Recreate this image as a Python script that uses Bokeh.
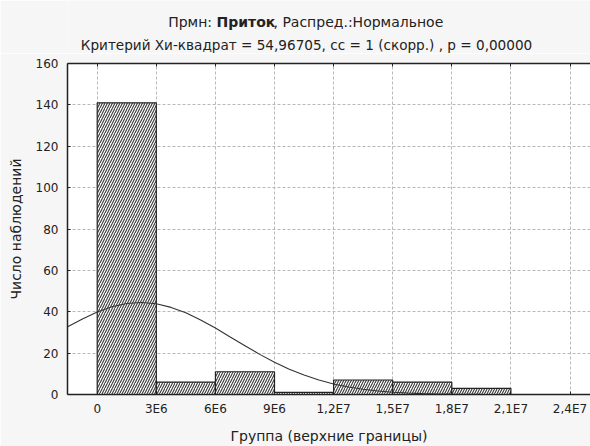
from bokeh.plotting import figure
from bokeh.models import Range1d, FixedTicker, LinearAxis
from bokeh.layouts import column
from bokeh.core.properties import value
from bokeh.embed import file_html
from bokeh.resources import INLINE

# ---- data ----
bin_left = [0, 3e6, 6e6, 9e6, 12e6, 15e6, 18e6]
bin_right = [3e6, 6e6, 9e6, 12e6, 15e6, 18e6, 21e6]
counts = [141, 6, 11, 1, 7, 6, 3]

# fitted normal curve, read at points along x
curve_x = [-1.5e6, -0.75e6, 0, 0.75e6, 1.5e6, 2.25e6, 3e6, 3.75e6, 4.5e6, 5.25e6,
           6e6, 6.75e6, 7.5e6, 8.25e6, 9e6, 9.75e6, 10.5e6, 11.25e6, 12e6, 12.75e6,
           13.5e6, 14.25e6, 15e6, 15.75e6, 16.5e6, 17.25e6, 18e6, 18.75e6, 19.5e6,
           20.25e6, 21e6, 22.5e6, 24e6, 25.5e6]
curve_y = [32.7, 36.5, 39.9, 42.4, 44.0, 44.5, 43.9, 42.1, 39.5, 36.0,
           32.1, 27.8, 23.6, 19.4, 15.6, 12.2, 9.4, 7.0, 5.1, 3.6,
           2.5, 1.7, 1.1, 0.7, 0.43, 0.26, 0.16, 0.09, 0.05,
           0.03, 0.015, 0.004, 0.001, 0.0]

x_ticks = [0, 3000000, 6000000, 9000000, 12000000, 15000000, 18000000, 21000000, 24000000]
x_tick_labels = ["0", "3E6", "6E6", "9E6", "1,2E7", "1,5E7", "1,8E7", "2,1E7", "2,4E7"]
y_ticks = [0, 20, 40, 60, 80, 100, 120, 140, 160]

title_part1 = "Прмн: "
title_part2 = "Приток"
title_part3 = ", Распред.:Нормальное"
title_line2 = "Критерий Хи-квадрат = 54,96705, сс = 1 (скорр.) , р = 0,00000"
x_label = "Группа (верхние границы)"
y_label = "Число наблюдений"

FONT = "DejaVu Sans"
BG = "#f6f6f6"
W = 590
TITLE_H = 53
LEFT = 67

# ---- title strip: its frame is aligned with the chart frame (x 67..590) ----
t = figure(width=W, height=TITLE_H, x_range=Range1d(LEFT, W), y_range=Range1d(TITLE_H, 0),
           x_axis_location=None, y_axis_location=None,
           output_backend="svg", toolbar_location=None,
           min_border=0, min_border_left=LEFT, min_border_right=0,
           min_border_top=0, min_border_bottom=0)
t.grid.visible = False
t.outline_line_color = None
t.background_fill_color = BG
t.border_fill_color = BG

common = dict(text_font=value(FONT), text_color="#222222", text_baseline="middle")
t.text(x=[216], y=[21], text=[title_part1], text_align="right",
       text_font_size=value("14px"), **common)
t.text(x=[216], y=[21], text=[title_part2], text_align="left",
       text_font_style="bold", text_font_size=value("14px"), **common)
t.text(x=[273], y=[21], text=[title_part3], text_align="left",
       text_font_size=value("14px"), **common)
t.text(x=[306], y=[44], text=[title_line2], text_align="center",
       text_font_size=value("13.6px"), **common)

# ---- main chart ----
p = figure(width=W, height=446 - TITLE_H,
           x_range=Range1d(-1.508e6, 25.04e6), y_range=Range1d(0, 160),
           output_backend="svg", toolbar_location=None,
           min_border_left=LEFT, min_border_right=0,
           min_border_top=63 - TITLE_H, min_border_bottom=49)

p.background_fill_color = "white"
p.border_fill_color = BG
p.outline_line_color = None

p.xgrid.ticker = FixedTicker(ticks=x_ticks)
p.ygrid.ticker = FixedTicker(ticks=y_ticks)
p.grid.grid_line_color = "#b8b8b8"
p.grid.grid_line_dash = "3 2"
p.grid.grid_line_width = 1

p.quad(left=bin_left, right=bin_right, bottom=0, top=counts,
       fill_color="white", line_color="#222222", line_width=1.2,
       hatch_pattern="right_diagonal_line", hatch_color="#383838",
       hatch_scale=5, hatch_weight=1.1)

p.line(curve_x, curve_y, line_color="#333333", line_width=1.1)

xa = p.xaxis[0]
xa.ticker = FixedTicker(ticks=x_ticks)
xa.major_label_overrides = {t_: l for t_, l in zip(x_ticks, x_tick_labels)}
xa.axis_label = x_label
ya = p.yaxis[0]
ya.ticker = FixedTicker(ticks=y_ticks)
ya.axis_label = y_label

for ax in (xa, ya):
    ax.axis_line_color = "#222222"
    ax.axis_line_width = 1.5
    ax.major_tick_in = 3
    ax.major_tick_out = 0
    ax.major_tick_line_color = "#222222"
    ax.minor_tick_line_color = None
    ax.major_label_text_font = FONT
    ax.major_label_text_font_size = "12px"
    ax.major_label_text_color = "#222222"
    ax.axis_label_text_font = FONT
    ax.axis_label_text_font_size = "14px"
    ax.axis_label_text_font_style = "normal"
    ax.axis_label_text_color = "#222222"

xa.major_label_standoff = 7
xa.axis_label_standoff = 9
ya.major_label_standoff = 9
ya.axis_label_standoff = 9

top = LinearAxis(ticker=FixedTicker(ticks=x_ticks), major_tick_in=3, major_tick_out=0,
                 minor_tick_line_color=None, major_label_text_color=None,
                 major_label_text_font_size="1px", major_label_standoff=0,
                 axis_line_color="#222222", axis_line_width=1.5,
                 major_tick_line_color="#222222")
p.add_layout(top, "above")

layout = column(t, p, spacing=0)
open("out.html", "w").write(file_html(layout, INLINE))
